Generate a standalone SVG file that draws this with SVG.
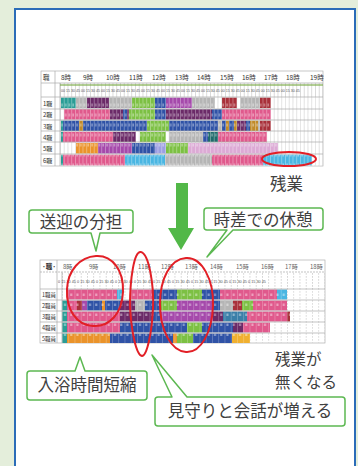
<svg xmlns="http://www.w3.org/2000/svg" width="358" height="466" viewBox="0 0 358 466">
<defs>
<style>
.lbl{font-family:"Noto Sans CJK JP","Noto Sans",sans-serif;font-size:16.5px;fill:#404040}
.co{fill:#fff;stroke:#5cb851;stroke-width:1.5;stroke-linejoin:round}
.tiny{font-family:"Noto Sans CJK JP","Noto Sans",sans-serif;font-size:6.5px;fill:#333}
.dig{font-family:"Liberation Sans",sans-serif;font-size:3.6px;fill:#555}
.row{stroke:#a9a9a9;stroke-width:0.7}
.red{fill:none;stroke:#e21f26;stroke-width:2}
.teal{fill:#2a9d96}.gray{fill:#b5b5b5}.dpur{fill:#6b2a68}.green{fill:#7cc043}.blue{fill:#2f52a6}
.purp{fill:#a549ab}.dred{fill:#a8303a}.pink{fill:#e0598c}.orng{fill:#ea932b}.lav{fill:#9d9fe2}
.lpink{fill:#dcaad5}.cyan{fill:#4ab6e2}.dteal{fill:#1f6b6b}.brown{fill:#c08a2a}.yel{fill:#f0b030}.tblue{fill:#3a7fa8}
</style>
<pattern id="gridA" x="60" y="0" width="3.75" height="10" patternUnits="userSpaceOnUse">
<rect x="0" y="0" width="0.6" height="10" fill="#c4c4c4"/>
</pattern>
<pattern id="gridAw" x="60" y="0" width="3.75" height="10" patternUnits="userSpaceOnUse">
<rect x="0" y="0" width="0.7" height="10" fill="#fff" fill-opacity="0.45"/>
<rect x="1.4" y="3.5" width="1.2" height="3" fill="#fff" fill-opacity="0.5"/>
</pattern>
<pattern id="gridB" x="62" y="0" width="6.25" height="3" patternUnits="userSpaceOnUse">
<rect x="0" y="0" width="0.6" height="1.8" fill="#bdbdbd"/>
</pattern>
<pattern id="gridBw" x="62" y="0" width="6.25" height="10" patternUnits="userSpaceOnUse">
<rect x="0" y="0" width="0.6" height="10" fill="#fff" fill-opacity="0.35"/>
<rect x="2" y="3.5" width="2" height="2.5" fill="#fff" fill-opacity="0.45"/>
</pattern>
</defs>

<rect width="358" height="466" fill="#e4eedb"/>
<rect x="15" y="9" width="340" height="470" fill="#fff" stroke="#2b6cb8" stroke-width="2"/>

<!-- top schedule table -->
<g id="table-before">
<rect x="41" y="71" width="282" height="95" fill="#fff" stroke="#b0b0b0" stroke-width="0.7"/>
<rect x="60" y="83" width="263" height="83" fill="url(#gridA)"/>
<g>
<rect x="61" y="97.6" width="15" height="10.6" class="teal"/><rect x="76" y="97.6" width="11" height="10.6" class="gray"/><rect x="87" y="97.6" width="22" height="10.6" class="dpur"/><rect x="109" y="97.6" width="23" height="10.6" class="gray"/><rect x="132" y="97.6" width="23" height="10.6" class="green"/><rect x="155" y="97.6" width="11" height="10.6" class="blue"/><rect x="166" y="97.6" width="26" height="10.6" class="purp"/><rect x="192" y="97.6" width="23" height="10.6" class="gray"/><rect x="222" y="97.6" width="15" height="10.6" class="dred"/><rect x="240" y="97.6" width="20" height="10.6" class="gray"/><rect x="260" y="97.6" width="11" height="10.6" class="dred"/>

<rect x="64" y="109.2" width="46" height="10.4" class="pink"/><rect x="110" y="109.2" width="13" height="10.4" class="dpur"/><rect x="123" y="109.2" width="4" height="10.4" class="blue"/><rect x="127" y="109.2" width="2" height="10.4" class="dpur"/><rect x="129" y="109.2" width="26" height="10.4" class="green"/><rect x="155" y="109.2" width="11" height="10.4" class="blue"/><rect x="166" y="109.2" width="46" height="10.4" class="dpur"/><rect x="212" y="109.2" width="10" height="10.4" class="blue"/><rect x="222" y="109.2" width="49" height="10.4" class="pink"/>

<rect x="61" y="120.6" width="2" height="10.4" class="teal"/><rect x="63" y="120.6" width="16" height="10.4" class="blue"/><rect x="79" y="120.6" width="4" height="10.4" class="brown"/><rect x="83" y="120.6" width="64" height="10.4" class="blue"/><rect x="147" y="120.6" width="22" height="10.4" class="green"/><rect x="169" y="120.6" width="49" height="10.4" class="blue"/><rect x="218" y="120.6" width="4" height="10.4" class="gray"/><rect x="222" y="120.6" width="4" height="10.4" class="blue"/><rect x="226" y="120.6" width="3" height="10.4" class="brown"/><rect x="229" y="120.6" width="5" height="10.4" class="blue"/><rect x="234" y="120.6" width="3" height="10.4" class="brown"/><rect x="237" y="120.6" width="9" height="10.4" class="dpur"/><rect x="246" y="120.6" width="4" height="10.4" class="blue"/><rect x="250" y="120.6" width="8" height="10.4" class="brown"/><rect x="258" y="120.6" width="2" height="10.4" class="gray"/><rect x="260" y="120.6" width="11" height="10.4" class="dred"/>

<rect x="61" y="131.8" width="2" height="10.4" class="teal"/><rect x="63" y="131.8" width="50" height="10.4" class="pink"/><rect x="113" y="131.8" width="23" height="10.4" class="dpur"/><rect x="140" y="131.8" width="26" height="10.4" class="green"/><rect x="169" y="131.8" width="34" height="10.4" class="gray"/><rect x="203" y="131.8" width="5" height="10.4" class="blue"/><rect x="208" y="131.8" width="10" height="10.4" class="dteal"/><rect x="218" y="131.8" width="49" height="10.4" class="pink"/>

<rect x="76" y="143" width="22" height="10.6" class="orng"/><rect x="98" y="143" width="34" height="10.6" class="purp"/><rect x="132" y="143" width="23" height="10.6" class="blue"/><rect x="155" y="143" width="11" height="10.6" class="lav"/><rect x="166" y="143" width="22" height="10.6" class="green"/><rect x="188" y="143" width="90" height="10.6" class="lpink"/>

<rect x="61" y="154.6" width="2" height="10.8" class="teal"/><rect x="63" y="154.6" width="62" height="10.8" class="pink"/><rect x="125" y="154.6" width="40" height="10.8" class="cyan"/><rect x="165" y="154.6" width="47" height="10.8" class="gray"/><rect x="212" y="154.6" width="51" height="10.8" class="pink"/><rect x="263" y="154.6" width="49" height="10.8" class="cyan"/>
</g>
<rect x="60" y="97" width="263" height="69" fill="url(#gridAw)"/>
<line x1="41" y1="83" x2="323" y2="83" class="row"/>
<line x1="41" y1="97" x2="323" y2="97" class="row"/>
<line x1="41" y1="109" x2="323" y2="109" class="row"/>
<line x1="41" y1="120" x2="323" y2="120" class="row"/>
<line x1="41" y1="131" x2="323" y2="131" class="row"/>
<line x1="41" y1="142" x2="323" y2="142" class="row"/>
<line x1="41" y1="154" x2="323" y2="154" class="row"/>
<line x1="55" y1="71" x2="55" y2="166" class="row"/>
<line x1="60" y1="83" x2="60" y2="166" class="row"/>
<text x="43" y="80" class="tiny">職</text>
<g class="tiny">
<text x="61" y="80">8時</text><text x="83" y="80">9時</text><text x="106" y="80">10時</text><text x="129" y="80">11時</text><text x="152" y="80">12時</text><text x="175" y="80">13時</text><text x="197" y="80">14時</text><text x="220" y="80">15時</text><text x="242" y="80">16時</text><text x="264" y="80">17時</text><text x="286" y="80">18時</text><text x="310" y="80">19時</text>
</g>
<rect x="60" y="84" width="263" height="2" fill="#7fae4c" fill-opacity="0.6"/>
<g class="dig">
<text x="61" y="92">00 15 30 45 00 15 30 45 00 15 30 45 00 15 30 45 00 15 30 45 00 15 30 45 00 15 30 45 00 15 30 45 00 15 30 45 00 15 30 45 00 15 30 45 00 15 30 45</text>
</g>
<g class="tiny" style="font-size:6px">
<text x="43" y="106">1職</text><text x="43" y="117">2職</text><text x="43" y="129">3職</text><text x="43" y="140">4職</text><text x="43" y="151">5職</text><text x="43" y="163">6職</text>
</g>
<ellipse cx="289" cy="159" rx="27" ry="7" class="red"/>
</g>

<g id="label-zangyo">
<text x="270" y="190" class="lbl">残業</text>
</g>

<g id="arrow-down">
<path d="M176 183 H188 V228 H194 L181 250 L168 228 H176 Z" fill="#52b848"/>
</g>

<!-- bottom schedule table -->
<g id="table-after">
<rect x="40" y="260" width="285" height="83" fill="#fff" stroke="#b0b0b0" stroke-width="0.7"/>
<rect x="62" y="272" width="263" height="71" fill="url(#gridB)"/>
<g>
<rect x="67" y="289.5" width="50" height="10" class="pink"/><rect x="117" y="289.5" width="5" height="10" class="cyan"/><rect x="130" y="289.5" width="23" height="10" class="pink"/><rect x="153" y="289.5" width="24" height="10" class="blue"/><rect x="177" y="289.5" width="25" height="10" class="green"/><rect x="202" y="289.5" width="18" height="10" class="blue"/><rect x="220" y="289.5" width="57" height="10" class="pink"/><rect x="277" y="289.5" width="10" height="10" class="cyan"/>

<rect x="62" y="300.5" width="5" height="10" class="teal"/><rect x="67" y="300.5" width="10" height="10" class="pink"/><rect x="77" y="300.5" width="5" height="10" class="dred"/><rect x="82" y="300.5" width="5" height="10" class="purp"/><rect x="87" y="300.5" width="15" height="10" class="blue"/><rect x="102" y="300.5" width="3" height="10" class="orng"/><rect x="105" y="300.5" width="15" height="10" class="blue"/><rect x="120" y="300.5" width="15" height="10" class="dpur"/><rect x="135" y="300.5" width="10" height="10" class="gray"/><rect x="145" y="300.5" width="15" height="10" class="blue"/><rect x="160" y="300.5" width="17" height="10" class="green"/><rect x="177" y="300.5" width="36" height="10" class="purp"/><rect x="213" y="300.5" width="7" height="10" class="blue"/><rect x="220" y="300.5" width="13" height="10" class="gray"/><rect x="233" y="300.5" width="9" height="10" class="dred"/><rect x="242" y="300.5" width="11" height="10" class="green"/><rect x="253" y="300.5" width="34" height="10" class="pink"/>

<rect x="62" y="311.5" width="5" height="10" class="teal"/><rect x="67" y="311.5" width="53" height="10" class="pink"/><rect x="120" y="311.5" width="33" height="10" class="dpur"/><rect x="153" y="311.5" width="7" height="10" class="blue"/><rect x="160" y="311.5" width="53" height="10" class="purp"/><rect x="213" y="311.5" width="10" height="10" class="dpur"/><rect x="223" y="311.5" width="24" height="10" class="tblue"/><rect x="247" y="311.5" width="40" height="10" class="pink"/><rect x="287" y="311.5" width="3" height="10" class="dred"/>

<rect x="62" y="322.5" width="5" height="10" class="teal"/><rect x="67" y="322.5" width="53" height="10" class="pink"/><rect x="120" y="322.5" width="67" height="10" class="blue"/><rect x="187" y="322.5" width="15" height="10" class="green"/><rect x="202" y="322.5" width="31" height="10" class="blue"/><rect x="233" y="322.5" width="10" height="10" class="dpur"/><rect x="243" y="322.5" width="27" height="10" class="pink"/>

<rect x="62" y="333.5" width="5" height="9.5" class="teal"/><rect x="67" y="333.5" width="43" height="9.5" class="orng"/><rect x="110" y="333.5" width="63" height="9.5" class="blue"/><rect x="173" y="333.5" width="4" height="9.5" class="orng"/><rect x="177" y="333.5" width="16" height="9.5" class="green"/><rect x="193" y="333.5" width="39" height="9.5" class="blue"/><rect x="232" y="333.5" width="18" height="9.5" class="yel"/>
</g>
<rect x="62" y="289" width="263" height="54" fill="url(#gridBw)"/>
<line x1="40" y1="272" x2="325" y2="272" class="row" stroke-dasharray="2 1"/>
<line x1="40" y1="289" x2="325" y2="289" class="row"/>
<line x1="40" y1="300" x2="325" y2="300" class="row"/>
<line x1="40" y1="311" x2="325" y2="311" class="row"/>
<line x1="40" y1="322" x2="325" y2="322" class="row"/>
<line x1="40" y1="333" x2="325" y2="333" class="row"/>
<line x1="57" y1="260" x2="57" y2="343" class="row"/>
<line x1="62" y1="272" x2="62" y2="343" class="row"/>
<text x="42" y="269" class="tiny" style="font-weight:bold">·職·</text>
<g class="tiny" style="font-size:6px;fill:#666">
<text x="63" y="269">8時</text><text x="89" y="269">9時</text><text x="113" y="269">10時</text><text x="138" y="269">11時</text><text x="161" y="269">12時</text><text x="185" y="269">13時</text><text x="210" y="269">14時</text><text x="236" y="269">15時</text><text x="261" y="269">16時</text><text x="285" y="269">17時</text><text x="310" y="269">18時</text>
</g>
<g class="dig" style="font-size:3.8px">
<text x="58" y="283">0 15 30 45 0 15 30 45 0 15 30 45 0 15 30 45 0 15 30 45 0 15 30 45 0 15 30 45 0 15 30 45 0 15 30 45 0 15 30 45 0 15 30 45</text>
</g>
<g class="tiny" style="font-size:5.5px">
<text x="42" y="297">1職員</text><text x="42" y="308">2職員</text><text x="42" y="319">3職員</text><text x="42" y="330">4職員</text><text x="42" y="341">5職員</text>
</g>
<path d="M96 256 C112 255 124 270 123 292 C122 313 110 327 93 326 C76 325 66 309 67 289 C68 270 80 257 96 256 Z" class="red"/>
<path d="M141 252 C149 254 154 285 153 308 C152 332 147 356 142 356 C136 355 131 330 130 305 C130 280 134 250 141 252 Z" class="red"/>
<path d="M186 258 C202 257 214 280 213 306 C212 332 201 353 186 352 C171 351 160 330 160 304 C160 279 170 259 186 258 Z" class="red"/>
</g>

<g id="label-nakunaru">
<text x="275" y="365" class="lbl" style="font-size:15.5px">残業が</text>
<text x="275" y="388" class="lbl" style="font-size:15.5px">無くなる</text>
</g>

<g id="callout-sougei">
<path d="M32 210 H130 Q133 210 133 213 V230 Q133 233 130 233 H100 L96 251 L91 233 H32 Q29 233 29 230 V213 Q29 210 32 210 Z" class="co"/>
<text x="81" y="228" text-anchor="middle" class="lbl">送迎の分担</text>
</g>

<g id="callout-kyukei">
<path d="M207 208 H320 Q323 208 323 211 V227 Q323 230 320 230 H233 L207 257 L227 230 H207 Q204 230 204 227 V211 Q204 208 207 208 Z" class="co"/>
<text x="263" y="226" text-anchor="middle" class="lbl">時差での休憩</text>
</g>

<g id="callout-nyuyoku">
<path d="M30 371 H75 L80 357 L85 371 H144 Q147 371 147 374 V397 Q147 400 144 400 H30 Q27 400 27 397 V374 Q27 371 30 371 Z" class="co"/>
<text x="87" y="391" text-anchor="middle" class="lbl">入浴時間短縮</text>
</g>

<g id="callout-mimamori">
<path d="M158 397 H172 L152 355 L187 397 H342 Q345 397 345 400 V423 Q345 426 342 426 H158 Q155 426 155 423 V400 Q155 397 158 397 Z" class="co"/>
<text x="250" y="417" text-anchor="middle" class="lbl">見守りと会話が増える</text>
</g>
</svg>
